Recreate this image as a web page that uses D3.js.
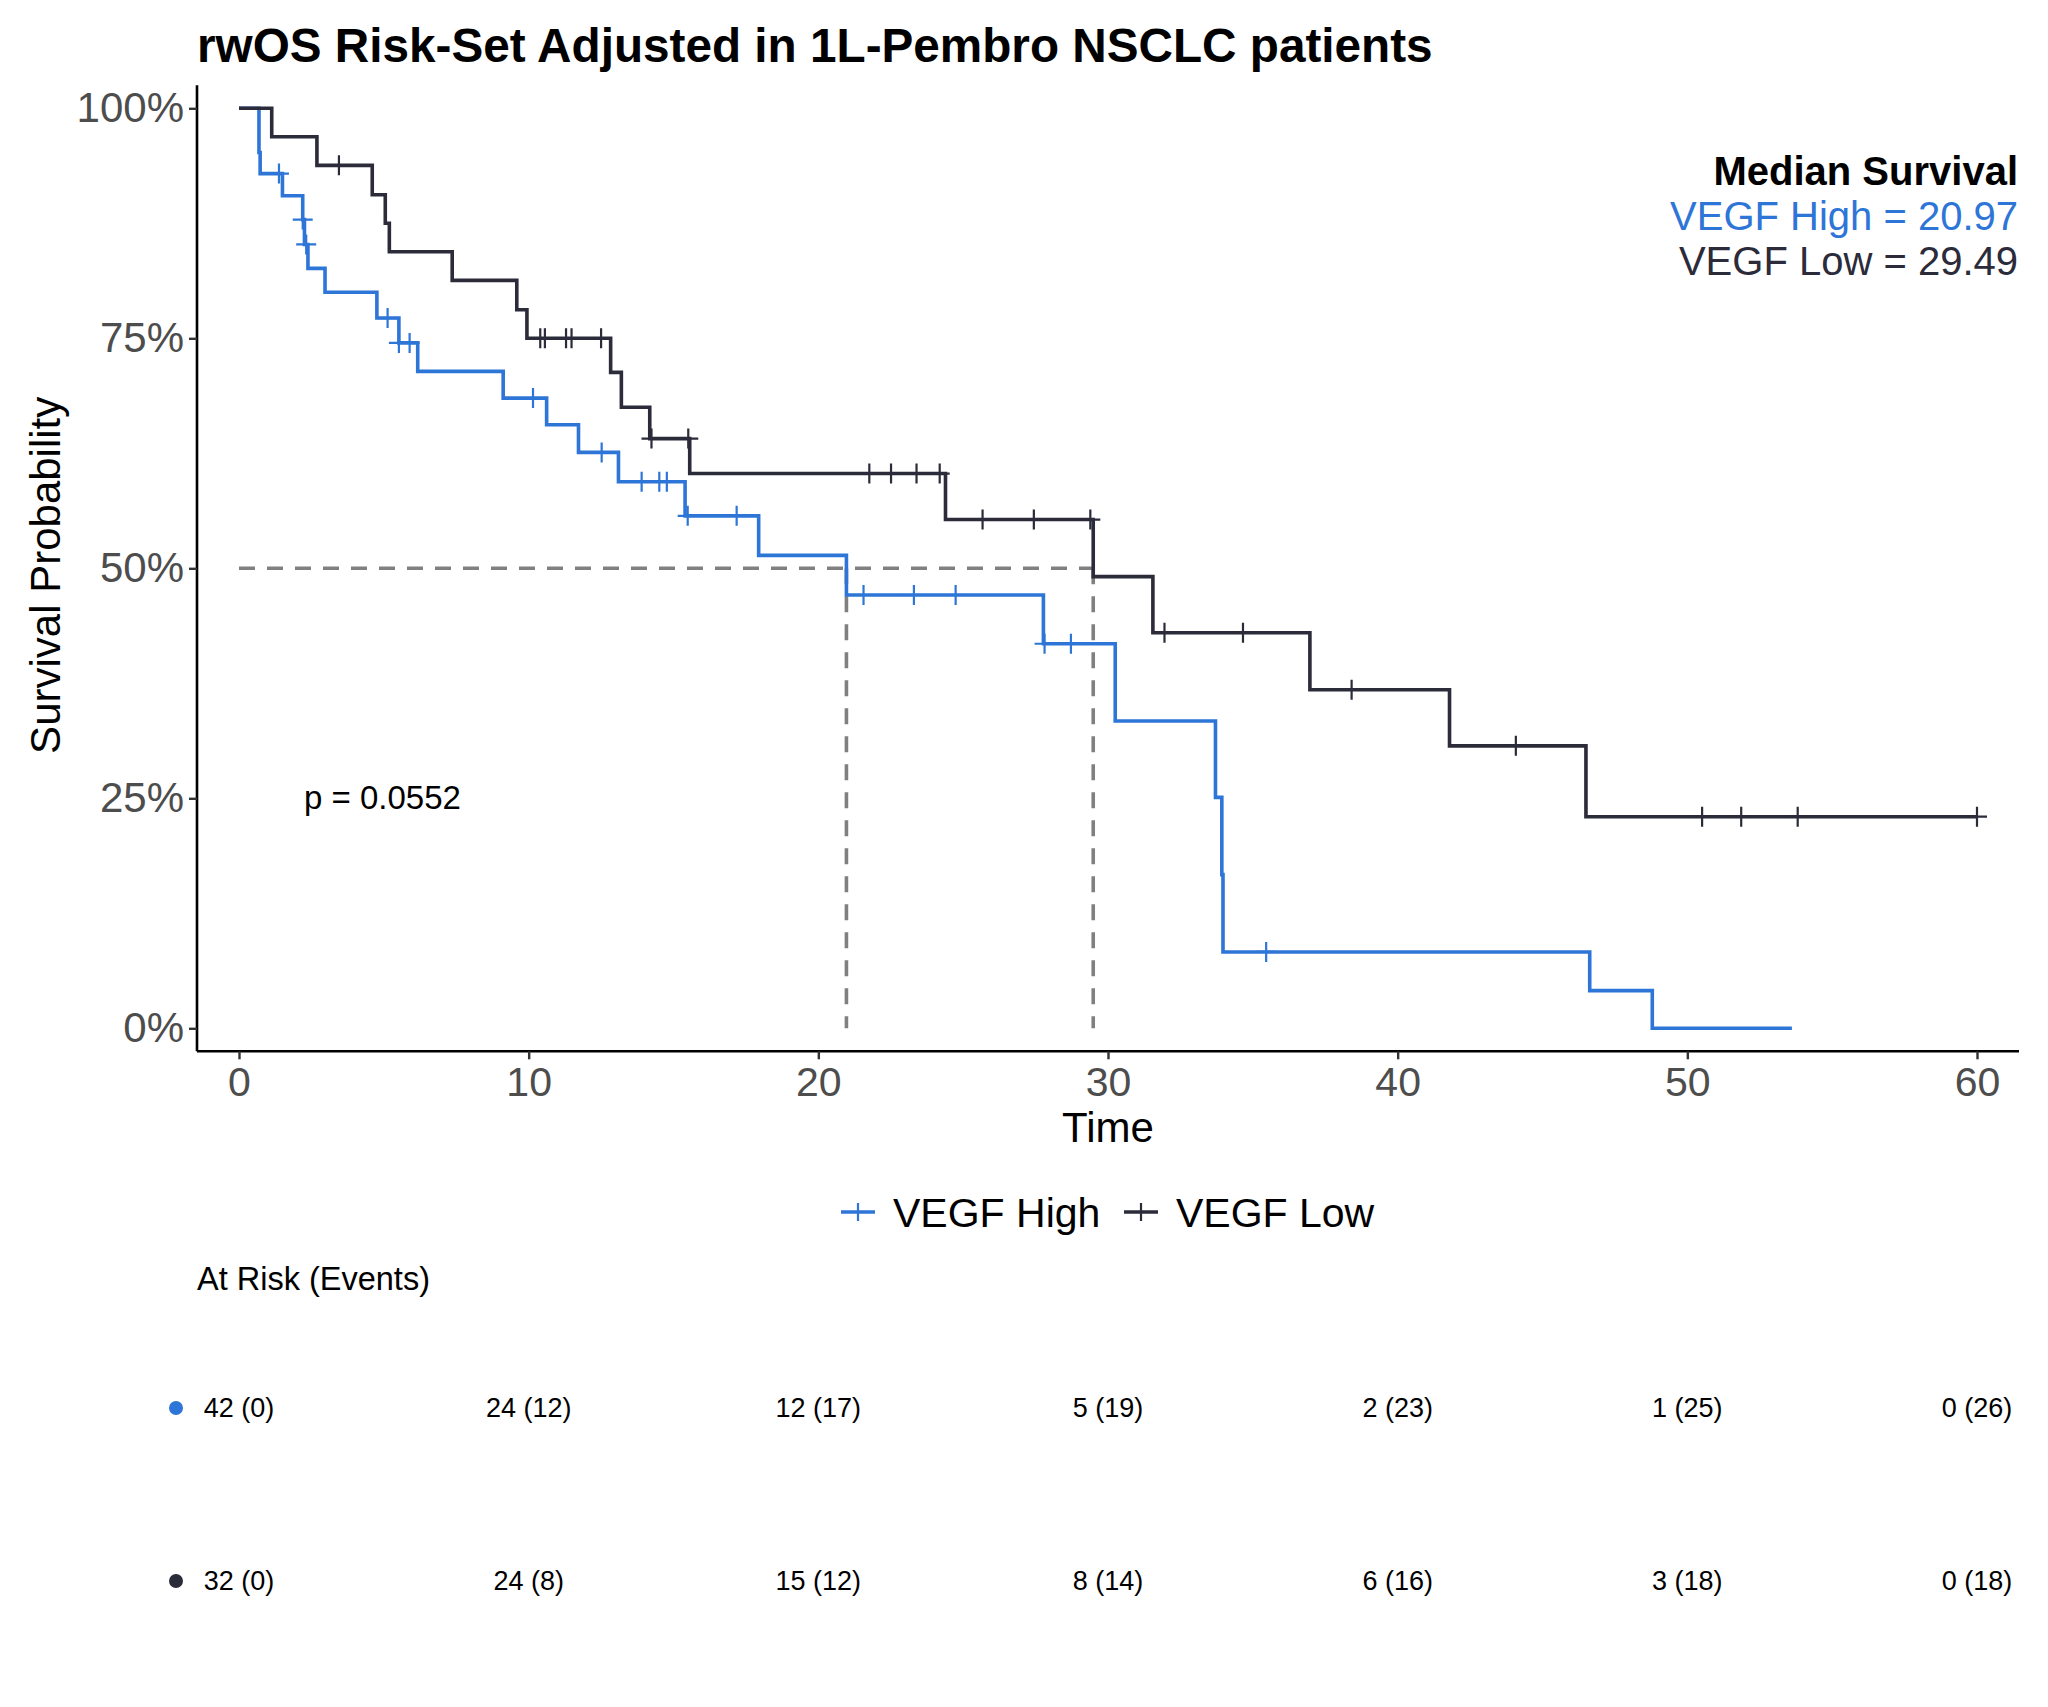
<!DOCTYPE html>
<html>
<head>
<meta charset="utf-8">
<script src="https://cdn.jsdelivr.net/npm/d3@7"></script>
<style>
  body { margin: 0; background: #fff; }
  svg { display: block; font-family: "Liberation Sans", Arial, sans-serif; }
</style>
</head>
<body>
<svg id="chart"></svg>
<script>
const width = 2048
const height = 1707

const blue = '#2e75d8'
const dark = '#2b2b3a'

// step curves (time, survival after the step)
const highTimes = [0, 0.69, 0.73, 1.5, 2.2, 2.26, 2.38, 2.97, 4.76, 5.52, 6.17, 9.12, 10.62, 11.72, 13.1, 15.4, 17.94, 20.97, 27.77, 30.25, 33.71, 33.93, 33.97, 46.63, 48.79, 53.61]
const highSurv = [1, 0.952, 0.929, 0.905, 0.879, 0.852, 0.826, 0.8, 0.772, 0.745, 0.714, 0.685, 0.656, 0.626, 0.594, 0.557, 0.514, 0.471, 0.418, 0.334, 0.251, 0.167, 0.083, 0.041, 0, 0]
const highCensor = [1.38, 2.2, 2.32, 5.13, 5.52, 5.89, 10.15, 12.52, 13.9, 14.51, 14.77, 15.49, 17.18, 21.56, 23.3, 24.74, 27.81, 28.72, 35.46]

const lowTimes = [0, 1.13, 2.69, 4.6, 5.05, 5.19, 7.36, 9.59, 9.94, 12.83, 13.2, 14.18, 15.56, 24.39, 29.49, 31.55, 36.97, 41.79, 46.5, 60]
const lowSurv = [1, 0.969, 0.938, 0.906, 0.875, 0.844, 0.813, 0.781, 0.75, 0.713, 0.675, 0.641, 0.603, 0.553, 0.491, 0.43, 0.368, 0.307, 0.23, 0.23]
const lowCensor = [3.45, 10.4, 10.56, 11.29, 11.48, 12.5, 14.24, 15.51, 21.76, 22.51, 23.39, 24.19, 25.67, 27.44, 29.39, 31.95, 34.66, 38.41, 44.08, 50.51, 51.86, 53.81, 60]

const groups = ['VEGF High', 'VEGF Low']
const medians = [20.97, 29.49]
const pValue = 'p = 0.0552'

const xTicks = [0, 10, 20, 30, 40, 50, 60]
const yTicks = [0, 0.25, 0.5, 0.75, 1]

const riskTimes = [0, 10, 20, 30, 40, 50, 60]
const highAtRisk = [42, 24, 12, 5, 2, 1, 0]
const highEvents = [0, 12, 17, 19, 23, 25, 26]
const lowAtRisk = [32, 24, 15, 8, 6, 3, 0]
const lowEvents = [0, 8, 12, 14, 16, 18, 18]

const series = [
  { name: groups[0], color: blue, times: highTimes, surv: highSurv, censor: highCensor, median: medians[0], atRisk: highAtRisk, events: highEvents },
  { name: groups[1], color: dark, times: lowTimes, surv: lowSurv, censor: lowCensor, median: medians[1], atRisk: lowAtRisk, events: lowEvents },
]

const svg = d3.select('#chart').attr('width', width).attr('height', height)

const x = d3.scaleLinear().domain([0, 60]).range([239, 1977])
const y = d3.scaleLinear().domain([0, 1]).range([1028.3, 108.3])

// survival value at time t (step after)
const survAt = (s, t) => {
  const i = d3.bisectRight(s.times, t) - 1
  return s.surv[Math.max(i, 0)]
}

// title
svg
  .append('text')
  .attr('x', 197)
  .attr('y', 62)
  .attr('font-size', 47.7)
  .attr('font-weight', 'bold')
  .attr('fill', '#000')
  .text('rwOS Risk-Set Adjusted in 1L-Pembro NSCLC patients')

// axes
const gx = svg
  .append('g')
  .attr('transform', `translate(0,${y(-0.025)})`)
  .call(d3.axisBottom(x).tickValues(xTicks).tickSize(8).tickPadding(8).tickSizeOuter(0))
gx.select('.domain').attr('d', `M${x(-1.45)},0H${x(61.45)}`).attr('stroke', '#000').attr('stroke-width', 2.6)
gx.selectAll('.tick line').attr('stroke', '#333').attr('stroke-width', 2.4)
gx.selectAll('.tick text').attr('font-size', 41).attr('fill', '#4d4d4d').attr('font-family', null)

const gy = svg
  .append('g')
  .attr('transform', `translate(${x(-1.45)},0)`)
  .call(d3.axisLeft(y).tickValues(yTicks).tickFormat(d3.format('.0%')).tickSize(8).tickPadding(5).tickSizeOuter(0))
gy.select('.domain').attr('d', `M0,${y(1.025)}V${y(-0.025)}`).attr('stroke', '#000').attr('stroke-width', 2.6)
gy.selectAll('.tick line').attr('stroke', '#333').attr('stroke-width', 2.4)
gy.selectAll('.tick text').attr('font-size', 42).attr('fill', '#4d4d4d').attr('font-family', null)

svg
  .append('text')
  .attr('transform', `translate(60,${y(0.5) + 7}) rotate(-90)`)
  .attr('text-anchor', 'middle')
  .attr('font-size', 42)
  .text('Survival Probability')

svg
  .append('text')
  .attr('x', (x(-1.45) + x(61.45)) / 2)
  .attr('y', 1142)
  .attr('text-anchor', 'middle')
  .attr('font-size', 42)
  .text('Time')

// median reference lines
const maxMedian = d3.max(medians)
const dash = svg.append('g').attr('stroke', '#808080').attr('stroke-width', 3.6).attr('stroke-dasharray', '16,12').attr('fill', 'none')
dash.append('path').attr('d', `M${x(0)},${y(0.5)}H${x(maxMedian)}`)
dash
  .selectAll('.vline')
  .data(medians)
  .join('path')
  .attr('class', 'vline')
  .attr('d', d => `M${x(d)},${y(0.5)}V${y(0)}`)

// curves
const line = d3
  .line()
  .curve(d3.curveStepAfter)
  .x(d => x(d[0]))
  .y(d => y(d[1]))

series.forEach(s => {
  const g = svg.append('g')
  g.append('path')
    .datum(d3.zip(s.times, s.surv))
    .attr('d', line)
    .attr('fill', 'none')
    .attr('stroke', s.color)
    .attr('stroke-width', 3.6)

  g.selectAll('.censor')
    .data(s.censor)
    .join('path')
    .attr('class', 'censor')
    .attr('transform', d => `translate(${x(d)},${y(survAt(s, d))})`)
    .attr('d', 'M-10,0H10M0,-10V10')
    .attr('stroke', s.color)
    .attr('stroke-width', 2.2)
})

// p value
svg.append('text').attr('x', 304).attr('y', 809).attr('font-size', 33).text(pValue)

// median survival annotation
const ann = svg.append('g').attr('text-anchor', 'end')
ann.append('text').attr('x', 2018).attr('y', 185).attr('font-size', 40).attr('font-weight', 'bold').text('Median Survival')
series.forEach((s, i) => {
  ann
    .append('text')
    .attr('x', 2018)
    .attr('y', 230 + i * 45)
    .attr('font-size', 40)
    .attr('fill', s.color)
    .text(`${s.name} = ${s.median.toFixed(2)}`)
})

// legend
const legendX = [841, 1124]
series.forEach((s, i) => {
  const g = svg.append('g').attr('transform', `translate(${legendX[i]},1212)`)
  g.append('path').attr('d', 'M0,0H34').attr('stroke', s.color).attr('stroke-width', 3.6)
  g.append('path').attr('d', 'M17,-9V9').attr('stroke', s.color).attr('stroke-width', 2.2)
  g.append('text').attr('x', 52).attr('y', 15).attr('font-size', 41).text(s.name)
})

// risk table
svg.append('text').attr('x', 197).attr('y', 1290).attr('font-size', 32.5).text('At Risk (Events)')

const rowY = [1417, 1590]
series.forEach((s, i) => {
  svg.append('circle').attr('cx', 176).attr('cy', rowY[i] - 9).attr('r', 7).attr('fill', s.color)
  svg
    .append('g')
    .selectAll('text')
    .data(riskTimes)
    .join('text')
    .attr('x', d => x(d))
    .attr('y', rowY[i])
    .attr('text-anchor', 'middle')
    .attr('font-size', 27)
    .text((d, j) => `${s.atRisk[j]} (${s.events[j]})`)
})
</script>
</body>
</html>
